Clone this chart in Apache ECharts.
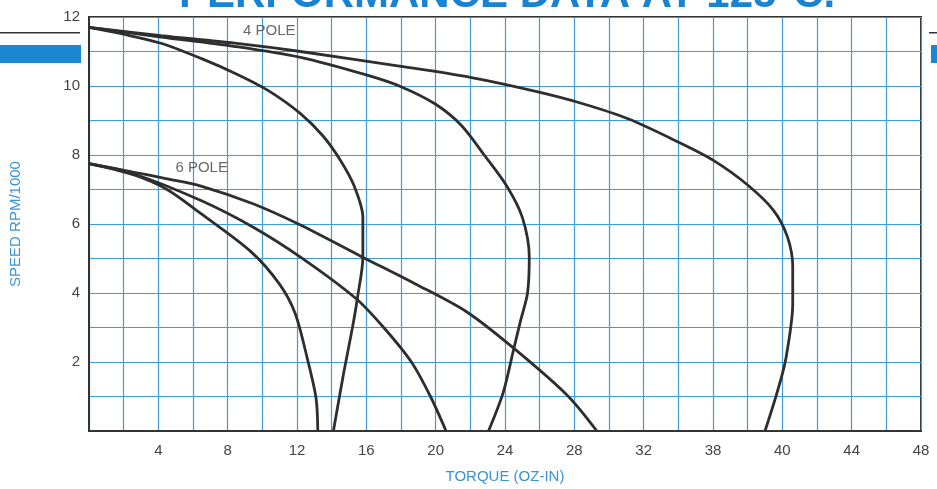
<!DOCTYPE html>
<html>
<head>
<meta charset="utf-8">
<script src="https://cdn.jsdelivr.net/npm/echarts@6/dist/echarts.min.js"></script>
<style>
  html, body { margin: 0; padding: 0; background: #fff; }
  #chart { width: 937px; height: 489px; }
</style>
</head>
<body>
<div id="chart"></div>
<script>
// tick labels (the printed sheet says 38 where 36 belongs)
var xTickLabels = ['', '4', '8', '12', '16', '20', '24', '28', '32', '38', '40', '44', '48'];
var yTickLabels = ['', '2', '4', '6', '8', '10', '12'];

// 4 pole curves  [torque oz-in, speed rpm/1000]
var pole4A = [[0, 11.7], [2, 11.5], [4.15, 11.24], [6.46, 10.8], [8.5, 10.35], [10.3, 9.88], [12.2, 9.2], [13.5, 8.55], [14.5, 7.85], [15.3, 7.1], [15.8, 6.19], [15.8, 5.04], [15.5, 3.9], [15.2, 3.0], [14.7, 1.7], [14.1, 0]];
var pole4B = [[0, 11.7], [4.15, 11.42], [8.36, 11.15], [12.2, 10.83], [16, 10.32], [18, 9.98], [20, 9.47], [21.5, 8.85], [22.8, 8.0], [24.1, 7.1], [25, 6.19], [25.4, 5.04], [25.3, 4.0], [24.9, 3.2], [24.5, 2.37], [23.9, 1.12], [23.05, 0]];
var pole4C = [[0, 11.7], [4.15, 11.46], [8.4, 11.24], [12.2, 11.0], [18, 10.57], [22, 10.25], [25.9, 9.83], [28.4, 9.5], [31.1, 9.05], [34.1, 8.35], [36, 7.85], [38, 7.13], [39.5, 6.39], [40.3, 5.62], [40.6, 4.76], [40.6, 3.7], [40.2, 2.09], [39.7, 1.12], [39.0, 0]];

// 6 pole curves
var pole6A = [[0, 7.75], [2.6, 7.42], [4.5, 7.0], [6.46, 6.3], [9.34, 5.2], [11.0, 4.25], [11.9, 3.4], [12.6, 2.09], [13.1, 0.95], [13.2, 0]];
var pole6B = [[0, 7.75], [2.6, 7.45], [6.46, 6.68], [9.5, 5.9], [12.2, 5.04], [15.4, 3.84], [17, 3.0], [18.6, 2.0], [19.7, 1.0], [20.6, 0]];
var pole6C = [[0, 7.75], [2.6, 7.5], [4.5, 7.31], [6.46, 7.1], [9.5, 6.58], [12.2, 5.97], [15.7, 5.06], [18.8, 4.27], [21.8, 3.45], [24.5, 2.4], [27.6, 1.03], [29.3, 0]];

// curve group labels
var groupLabels = [[10.4, 11.6, '4 POLE'], [6.5, 7.62, '6 POLE']];

var chart = echarts.init(document.getElementById('chart'));

function curve(data) {
  return {
    type: 'line',
    data: data,
    smooth: 0.3,
    symbol: 'none',
    lineStyle: { color: '#2e2e2e', width: 2.8 },
    z: 5
  };
}

var option = {
  animation: false,
  grid: {
    left: 88, right: 16, top: 17, bottom: 53,
    show: true, borderColor: '#333', borderWidth: 2
  },
  xAxis: {
    type: 'value', min: 0, max: 48, interval: 2,
    name: 'TORQUE (OZ-IN)', nameLocation: 'middle', nameGap: 38,
    nameTextStyle: { color: '#3b93d3', fontSize: 15, fontFamily: 'Liberation Sans' },
    axisLine: { lineStyle: { color: '#333', width: 2 } },
    axisTick: { show: false },
    axisLabel: {
      color: '#444', fontSize: 15, fontFamily: 'Liberation Sans', margin: 12,
      formatter: function (v) { return v % 4 === 0 ? xTickLabels[v / 4] : ''; }
    },
    splitLine: { lineStyle: { color: '#3f9cdb', width: 1.2 } }
  },
  yAxis: {
    type: 'value', min: 0, max: 12, interval: 1,
    name: 'SPEED RPM/1000', nameLocation: 'middle', nameGap: 66,
    nameTextStyle: { color: '#3b93d3', fontSize: 15, fontFamily: 'Liberation Sans' },
    axisLine: { lineStyle: { color: '#333', width: 2 } },
    axisTick: { show: false },
    axisLabel: {
      color: '#444', fontSize: 15, fontFamily: 'Liberation Sans', margin: 9,
      formatter: function (v) { return v % 2 === 0 ? yTickLabels[v / 2] : ''; }
    },
    splitLine: { lineStyle: { color: '#3f9cdb', width: 1.2 } }
  },
  series: [
    curve(pole4A), curve(pole4B), curve(pole4C),
    curve(pole6A), curve(pole6B), curve(pole6C),
    {
      type: 'scatter',
      data: groupLabels,
      symbolSize: 0,
      z: 6,
      label: {
        show: true, position: 'inside',
        formatter: function (p) { return p.data[2]; },
        color: '#444', fontSize: 15, fontFamily: 'Liberation Sans'
      }
    }
  ],
  graphic: [
    {
      type: 'text', left: 179, top: -26, z: 10,
      style: {
        text: 'PERFORMANCE DATA AT 125°C.',
        fill: '#1883d2', font: 'bold 42px "Liberation Sans", Arial, sans-serif'
      }
    },
    { type: 'rect', shape: { x: 0, y: 32, width: 80, height: 1.5 }, style: { fill: '#333' } },
    { type: 'rect', shape: { x: 0, y: 45, width: 81, height: 18 }, style: { fill: '#1a86d4' } },
    { type: 'rect', shape: { x: 929, y: 32, width: 8, height: 1.5 }, style: { fill: '#333' } },
    { type: 'rect', shape: { x: 931, y: 45, width: 6, height: 18 }, style: { fill: '#1a86d4' } }
  ]
};

chart.setOption(option);
</script>
</body>
</html>
